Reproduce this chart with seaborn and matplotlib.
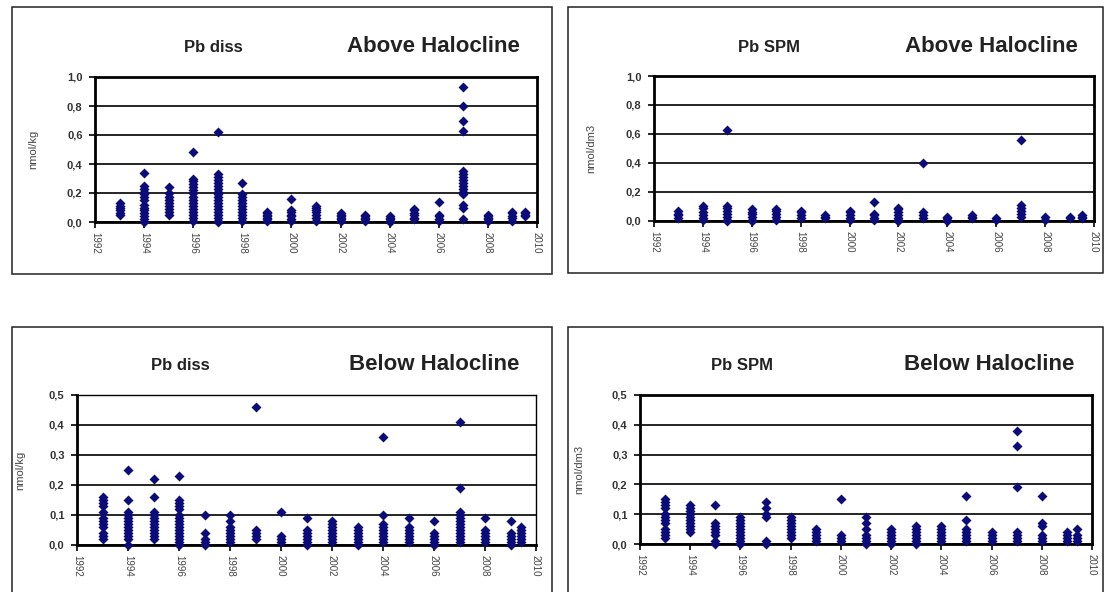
"""
Pb concentrations above / below the halocline, 1993-2009.
Four small scatter panels in the Excel style of the report.
"""

import pandas as pd
import seaborn as sns
import matplotlib.pyplot as plt
from matplotlib.patches import Rectangle
from matplotlib.ticker import FuncFormatter

# Data
years_top = [1993, 1994, 1995, 1996, 1997, 1998, 1999, 2000, 2001, 2002,
             2003, 2004, 2005, 2006, 2007, 2008, 2009, 2009.5]
years_bottom = [1993, 1994, 1995, 1996, 1997, 1998, 1999, 2000, 2001, 2002,
                2003, 2004, 2005, 2006, 2007, 2008, 2009, 2009.4]

pb_diss_above = [
    [0.13, 0.11, 0.10, 0.08, 0.06, 0.05],
    [0.34, 0.25, 0.23, 0.21, 0.19, 0.17, 0.15, 0.12, 0.10, 0.08, 0.06, 0.04, 0.02, 0.0],
    [0.24, 0.20, 0.17, 0.15, 0.13, 0.11, 0.09, 0.07, 0.05],
    [0.48, 0.30, 0.28, 0.26, 0.24, 0.22, 0.20, 0.17, 0.15, 0.13, 0.11, 0.09, 0.07, 0.05, 0.03, 0.01],
    [0.62, 0.33, 0.31, 0.29, 0.27, 0.25, 0.23, 0.21, 0.19, 0.17, 0.15, 0.13, 0.11, 0.09, 0.07, 0.05, 0.03, 0.01, 0.0],
    [0.27, 0.19, 0.17, 0.15, 0.13, 0.11, 0.09, 0.07, 0.05, 0.03, 0.01],
    [0.07, 0.06, 0.05, 0.04, 0.03, 0.02, 0.01],
    [0.16, 0.08, 0.07, 0.05, 0.04, 0.02, 0.01],
    [0.11, 0.10, 0.08, 0.07, 0.05, 0.03, 0.01],
    [0.06, 0.05, 0.04, 0.03, 0.02, 0.01],
    [0.05, 0.04, 0.03, 0.02, 0.01],
    [0.04, 0.03, 0.02, 0.01, 0.0],
    [0.09, 0.08, 0.06, 0.05, 0.03, 0.02],
    [0.14, 0.05, 0.04, 0.02, 0.01],
    [0.93, 0.80, 0.70, 0.63, 0.35, 0.33, 0.31, 0.29, 0.27, 0.25, 0.23, 0.21, 0.19, 0.12, 0.10, 0.02],
    [0.05, 0.04, 0.03, 0.02, 0.01],
    [0.07, 0.06, 0.04, 0.03, 0.01],
    [0.07, 0.06, 0.05, 0.04],
]

pb_spm_above = [
    [0.07, 0.05, 0.04, 0.02],
    [0.10, 0.09, 0.06, 0.04, 0.02, 0.01],
    [0.63, 0.10, 0.09, 0.07, 0.05, 0.03, 0.01, 0.0],
    [0.08, 0.06, 0.05, 0.03, 0.01, 0.0],
    [0.08, 0.07, 0.05, 0.03, 0.01],
    [0.07, 0.06, 0.04, 0.02],
    [0.04, 0.03, 0.02],
    [0.07, 0.06, 0.04, 0.02, 0.01],
    [0.13, 0.05, 0.04, 0.02, 0.01],
    [0.09, 0.08, 0.06, 0.04, 0.02, 0.01, 0.0],
    [0.40, 0.06, 0.04, 0.02],
    [0.03, 0.02, 0.01, 0.0],
    [0.04, 0.03, 0.02],
    [0.02, 0.01],
    [0.56, 0.11, 0.09, 0.07, 0.05, 0.03],
    [0.03, 0.01],
    [0.03, 0.02],
    [0.04, 0.03, 0.02],
]

pb_diss_below = [
    [0.16, 0.15, 0.14, 0.13, 0.11, 0.09, 0.08, 0.07, 0.06, 0.04, 0.03, 0.02],
    [0.25, 0.15, 0.11, 0.10, 0.09, 0.08, 0.07, 0.06, 0.05, 0.04, 0.03, 0.02, 0.0],
    [0.22, 0.16, 0.11, 0.10, 0.09, 0.08, 0.07, 0.06, 0.05, 0.04, 0.03, 0.02],
    [0.23, 0.15, 0.14, 0.13, 0.12, 0.10, 0.09, 0.08, 0.07, 0.06, 0.05, 0.04, 0.03, 0.02, 0.01, 0.0],
    [0.10, 0.04, 0.02, 0.01, 0.0],
    [0.10, 0.08, 0.06, 0.05, 0.04, 0.03, 0.02, 0.01],
    [0.46, 0.05, 0.04, 0.03, 0.02],
    [0.11, 0.03, 0.02, 0.01],
    [0.09, 0.05, 0.04, 0.03, 0.02, 0.01, 0.0],
    [0.08, 0.07, 0.06, 0.05, 0.04, 0.03, 0.02, 0.01],
    [0.06, 0.05, 0.04, 0.03, 0.02, 0.01, 0.0],
    [0.36, 0.10, 0.07, 0.06, 0.05, 0.04, 0.03, 0.02, 0.01],
    [0.09, 0.06, 0.05, 0.04, 0.03, 0.02, 0.01],
    [0.08, 0.04, 0.03, 0.02, 0.01, 0.0],
    [0.41, 0.19, 0.11, 0.10, 0.09, 0.08, 0.07, 0.06, 0.05, 0.04, 0.03, 0.02, 0.01],
    [0.09, 0.05, 0.04, 0.03, 0.02, 0.01],
    [0.08, 0.04, 0.03, 0.02, 0.01, 0.0],
    [0.06, 0.05, 0.04, 0.03, 0.02, 0.01],
]

pb_spm_below = [
    [0.15, 0.14, 0.13, 0.12, 0.10, 0.09, 0.08, 0.07, 0.05, 0.04, 0.03, 0.02],
    [0.13, 0.12, 0.11, 0.10, 0.09, 0.08, 0.07, 0.06, 0.05, 0.04],
    [0.13, 0.07, 0.06, 0.05, 0.04, 0.03, 0.01, 0.0],
    [0.09, 0.08, 0.07, 0.06, 0.05, 0.04, 0.03, 0.02, 0.01, 0.0],
    [0.14, 0.12, 0.10, 0.09, 0.01, 0.0],
    [0.09, 0.08, 0.07, 0.06, 0.05, 0.04, 0.03, 0.02],
    [0.05, 0.04, 0.03, 0.02, 0.01],
    [0.15, 0.03, 0.02, 0.01],
    [0.09, 0.07, 0.05, 0.03, 0.02, 0.01, 0.0],
    [0.05, 0.04, 0.03, 0.02, 0.01, 0.0],
    [0.06, 0.05, 0.04, 0.03, 0.02, 0.01, 0.0],
    [0.06, 0.05, 0.04, 0.03, 0.02, 0.01],
    [0.16, 0.08, 0.05, 0.04, 0.03, 0.02, 0.01],
    [0.04, 0.03, 0.02, 0.01],
    [0.38, 0.33, 0.19, 0.04, 0.03, 0.02, 0.01],
    [0.16, 0.07, 0.06, 0.03, 0.02, 0.01],
    [0.04, 0.03, 0.02, 0.01],
    [0.05, 0.03, 0.02, 0.01],
]

W, H = 1105, 592
NAVY = "#0b0b7a"

sns.set_style("white")
plt.rcParams["font.family"] = ["Liberation Sans", "DejaVu Sans"]


def to_frame(years, groups):
    rows = [(y, v) for y, vals in zip(years, groups) for v in vals]
    return pd.DataFrame(rows, columns=["year", "value"])


def fig_rect(left, top, right, bottom):
    return [left / W, 1 - bottom / H, (right - left) / W, (bottom - top) / H]


comma = FuncFormatter(lambda v, p: f"{v:.1f}".replace(".", ","))

# panel: data, axes box (px), outer frame (px), ymax, ystep, ylabel, ylabel x,
#        title, title pos, halocline text, halocline pos, thick top/right
panels = [
    (to_frame(years_top, pb_diss_above), (95, 77, 537, 222), (12, 7, 552, 274),
     1.0, 0.2, "nmol/kg", 38, "Pb diss", (213, 47), "Above Halocline", (433, 46), True),
    (to_frame(years_top, pb_spm_above), (654, 76, 1094, 221), (568, 7, 1103, 273),
     1.0, 0.2, "nmol/dm3", 596, "Pb SPM", (769, 47), "Above Halocline", (991, 46), True),
    (to_frame(years_bottom, pb_diss_below), (77, 395, 536, 545), (12, 327, 552, 620),
     0.5, 0.1, "nmol/kg", 25, "Pb diss", (180, 365), "Below Halocline", (434, 365), False),
    (to_frame(years_bottom, pb_spm_below), (640, 395, 1092, 544), (568, 327, 1103, 620),
     0.5, 0.1, "nmol/dm3", 584, "Pb SPM", (742, 365), "Below Halocline", (989, 365), True),
]

fig = plt.figure(figsize=(W / 100, H / 100), dpi=100)

for (df, box, frame, ymax, ystep, ylab, ylab_x, title, tpos,
     halo, hpos, thick) in panels:
    # outer chart frame
    fl, ft, fr, fb = frame
    fig.add_artist(Rectangle((fl / W, 1 - fb / H), (fr - fl) / W, (fb - ft) / H,
                             transform=fig.transFigure, fill=False,
                             edgecolor="#222222", linewidth=1.1))

    ax = fig.add_axes(fig_rect(*box))
    sns.scatterplot(data=df, x="year", y="value", ax=ax, color=NAVY,
                    marker="D", s=26, linewidth=0, clip_on=False, zorder=3)

    ax.set_xlim(1992, 2010)
    ax.set_ylim(0, ymax)
    ax.set_xticks(range(1992, 2011, 2))
    n = int(round(ymax / ystep))
    ax.set_yticks([i * ystep for i in range(n + 1)])
    ax.yaxis.set_major_formatter(comma)
    ax.grid(axis="y", color="black", linewidth=1.2)
    ax.set_axisbelow(True)

    ax.tick_params(axis="y", direction="out", length=4, width=1.2,
                   color="black", labelsize=8, labelcolor="#333333", pad=5, left=True)
    ax.tick_params(axis="x", direction="out", length=4, width=1.2,
                   color="black", labelsize=7, labelcolor="#444444",
                   labelrotation=270, pad=3, bottom=True)
    for lbl in ax.get_yticklabels():
        lbl.set_fontweight("bold")

    for side in ["left", "bottom"]:
        ax.spines[side].set_linewidth(2.0)
        ax.spines[side].set_color("black")
    for side in ["top", "right"]:
        ax.spines[side].set_linewidth(2.0 if thick else 1.0)
        ax.spines[side].set_color("black")

    ax.set_xlabel("")
    ax.set_ylabel(ylab, fontsize=8, color="#444444")
    ax.yaxis.set_label_coords(ylab_x / W, 1 - (box[1] + box[3]) / 2 / H,
                              transform=fig.transFigure)

    fig.text(tpos[0] / W, 1 - tpos[1] / H, title, ha="center", va="center",
             fontsize=12, fontweight="bold", color="#222222")
    fig.text(hpos[0] / W, 1 - hpos[1] / H, halo, ha="center", va="center",
             fontsize=16, fontweight="bold", color="#222222")

fig.savefig("out.png", dpi=100, facecolor="white")
